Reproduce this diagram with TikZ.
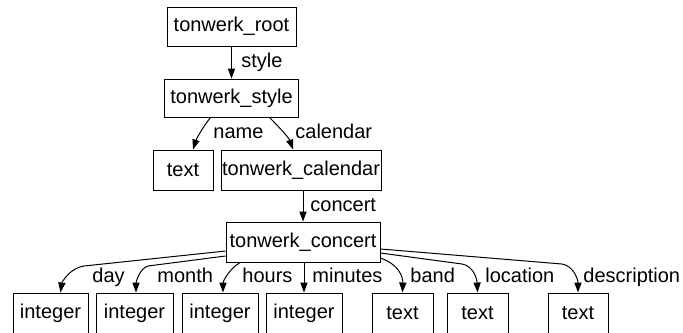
\documentclass[tikz,border=0pt]{standalone}
\usepackage{fontspec}
\setmainfont{Liberation Sans}
\usetikzlibrary{arrows.meta,calc}

\begin{document}
\begin{tikzpicture}[
    x=0.5pt, y=-0.5pt,
    every node/.style={font=\fontsize{10}{12}\selectfont},
    box/.style={draw,line width=0.5pt,inner sep=0pt,minimum height=20pt},
    edge/.style={-{Triangle[length=5pt,width=3.6pt]},line width=0.5pt},
    lbl/.style={anchor=base west,inner sep=0pt}
  ]
    \useasboundingbox (0,0) rectangle (683,332);
    \clip (0,0) rectangle (683,332);
    % types
    \node[box,minimum width=64.5pt,minimum height=19.5pt] (root) at (231.5,26.5) {tonwerk\_root};
    \node[box,minimum width=67pt,minimum height=19pt] (style) at (231.5,98) {tonwerk\_style};
    \node[box,minimum width=30pt] (name) at (183,170) {text};
    \node[box,minimum width=80pt] (calendar) at (301,170) {tonwerk\_calendar};
    \node[box,minimum width=77pt] (concert) at (303,242) {tonwerk\_concert};
    \node[box,minimum width=37.5pt] (day) at (50.5,313) {integer};
    \node[box,minimum width=38.5pt] (month) at (134.5,313) {integer};
    \node[box,minimum width=38pt] (hours) at (220,313) {integer};
    \node[box,minimum width=38pt] (minutes) at (304,313) {integer};
    \node[box,minimum width=30.5pt] (band) at (402.5,313) {text};
    \node[box,minimum width=30.5pt] (location) at (477.5,313) {text};
    \node[box,minimum width=30pt] (description) at (578,313) {text};
    % fields
    \draw[edge] (root.south) -- (style.north);
    \draw[edge] ($(style.south)+(-21,0)$) .. controls (202,128) and (196,140) .. ($(name.north)+(10,0)$);
    \draw[edge] ($(style.south)+(38,0)$) .. controls (280,128) and (289,138) .. ($(calendar.north)+(-8,0)$);
    \draw[edge] (calendar.south -| concert.north) -- (concert.north);
    \draw[edge] ($(concert.west)+(0,9)$) -- (84,266) .. controls (70,268) and (62,282) .. ($(day.north)+(10,0)$);
    \draw[edge] ($(concert.west)+(0,14)$) -- (148,266) .. controls (140,268) and (136,282) .. ($(month.north)+(1.5,0)$);
    \draw[edge] ($(concert.south)+(-63,0)$) .. controls (228,270) and (223,282) .. ($(hours.north)+(3,0)$);
    \draw[edge] (concert.south -| minutes.north) -- (minutes.north);
    \draw[edge] ($(concert.east)+(0,16)$) .. controls (400,265) and (403,278) .. (band.north);
    \draw[edge] ($(concert.east)+(0,11)$) -- (462,264) .. controls (474,266) and (477,280) .. (location.north);
    \draw[edge] ($(concert.east)+(0,7)$) -- (562,264) .. controls (574,266) and (578,280) .. (description.north);
    % labels
    \node[lbl] (lstyle) at (241,67) {style};
    \node[lbl] (lname) at (213,138) {name};
    \node[lbl] (lcalendar) at (295,138) {calendar};
    \node[lbl] (lconcert) at (310,211) {concert};
    \node[lbl] (lday) at (92,282) {day};
    \node[lbl] (lmonth) at (157,282) {month};
    \node[lbl] (lhours) at (242,282) {hours};
    \node[lbl] (lminutes) at (312,282) {minutes};
    \node[lbl] (lband) at (410,282) {band};
    \node[lbl] (llocation) at (485,282) {location};
    \node[lbl] (ldescription) at (583,282) {description};
\end{tikzpicture}
\end{document}
